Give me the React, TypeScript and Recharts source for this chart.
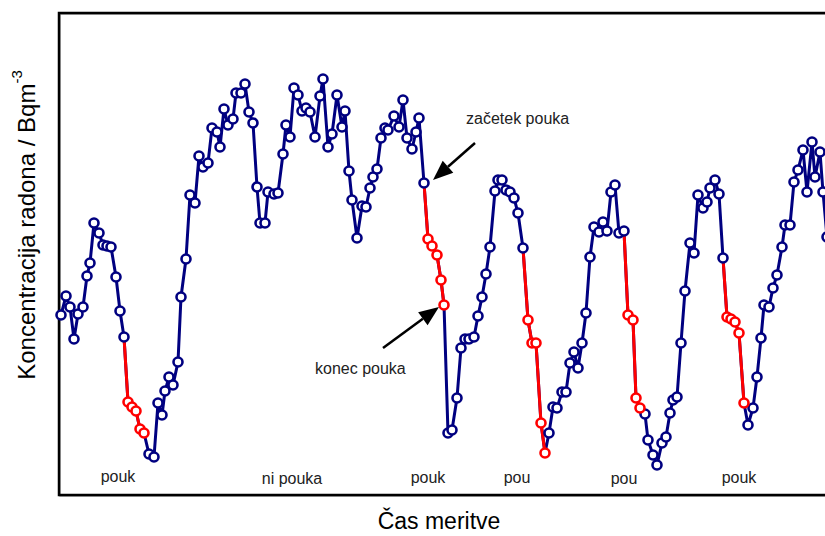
import React from "react";
import {
  LineChart,
  Line,
  XAxis,
  YAxis,
  ReferenceArea,
  ReferenceLine,
  ReferenceDot
} from "recharts";

// čas meritve (enote vzorčenja) in koncentracija radona
const casMeritve = [
  0.5, 1.75, 2.75, 3.75, 4.75, 6, 7, 7.75, 8.75, 10,
  11, 12, 13, 14.25, 15.25, 16.25, 17.25, 18.25, 19.25, 20.25,
  21.25, 22.5, 23.75, 24.75, 25.75, 26.5, 27.5, 28.5, 29.75, 30.5,
  31.75, 32.75, 34, 35, 36, 37.25, 38.25, 39.5, 40.25, 41.25,
  42.25, 43.5, 44.25, 45.5, 46.5, 47.5, 48.5, 49.5, 50.25, 51.5,
  52.25, 53.75, 54.75, 56, 56.75, 57.75, 58.75, 59.75, 60.75, 61.75,
  62.75, 64, 65.25, 66, 67.25, 68.25, 69.5, 70.75, 71.5, 72.5,
  73.25, 74.5, 75.75, 76.75, 77.75, 78.5, 79.5, 80.5, 81.5, 82.25,
  83.75, 85, 86, 87, 88.25, 89.25, 90, 91.25, 92.25, 93.25,
  94.5, 95.5, 96.25, 97.25, 98.25, 99.5, 100.5, 101.5, 102.5, 103.75,
  104.75, 105.75, 106.75, 107.75, 109, 109.75, 110.75, 111.75, 112.75, 113.75,
  114.75, 116, 117.25, 118.25, 119.25, 120.5, 121.5, 122.5, 123.5, 124.5,
  125.75, 126.75, 127.75, 128.75, 129.75, 130.75, 131.75, 132.75, 133.75, 135,
  136, 137, 138, 139, 140, 141.25, 142.25, 143.5, 144.25, 145.25,
  146.5, 147.25, 148.5, 149.5, 150.75, 151.75, 152.75, 153.5, 154.5, 155.5,
  156.5, 157.75, 158.75, 159.75, 161, 162, 162.75, 164, 165, 166,
  167, 168, 169, 170, 171.25, 172.25, 173.5, 174.5, 175.5, 176.25,
  177.5, 178.5, 179.5, 180.75, 181.5, 182.75, 183.75, 184.75, 186, 187,
  188.25, 189, 190.25, 191, 192
];

const radon = [
  360, 398, 376, 312, 362, 376, 438, 464, 544, 524,
  500, 498, 496, 436, 368, 316, 186, 176, 168, 132,
  124, 82, 76, 184, 160, 208, 236, 220, 266, 396,
  472, 600, 584, 678, 656, 664, 734, 726, 696, 772,
  740, 752, 804, 804, 822, 766, 744, 616, 544, 544,
  606, 602, 604, 682, 740, 716, 814, 800, 768, 774,
  766, 716, 798, 832, 696, 722, 800, 736, 768, 648,
  590, 514, 578, 576, 614, 636, 652, 714, 734, 730,
  758, 736, 790, 714, 692, 726, 754, 624, 512, 498,
  480, 430, 380, 124, 130, 194, 294, 312, 312, 316,
  358, 396, 442, 496, 608, 630, 630, 610, 606, 594,
  564, 494, 350, 304, 304, 144, 84, 124, 176, 174,
  206, 206, 264, 286, 254, 304, 364, 476, 536, 526,
  546, 528, 606, 620, 524, 528, 360, 350, 194, 174,
  162, 110, 80, 60, 104, 116, 164, 190, 196, 304,
  408, 504, 484, 600, 574, 586, 614, 630, 602, 474,
  356, 352, 346, 324, 184, 140, 174, 236, 314, 380,
  376, 414, 440, 496, 540, 540, 626, 650, 690, 606,
  706, 636, 686, 606, 516
];

// obdobja pouka (od, do)
const obdobjaPouka = [
  [17, 21.5],
  [92, 96.5],
  [117, 122],
  [142, 145.5],
  [167, 171.5]
];

const oznake = ["pouk", "ni pouka", "pouk", "pou", "pou", "pouk"];
const oznakeCas = [14.75, 58.25, 92.25, 114.5, 141.25, 170];
const oznakeVisina = [38, 34, 36, 36, 34, 36];

const BLUE = "#000080";
const RED = "#ff0000";
const FONT = "'Liberation Sans', Arial, sans-serif";

const jePouk = (t: number) => obdobjaPouka.some(([a, b]) => t >= a && t <= b);

const data = casMeritve.map((t, i) => {
  const pouk = jePouk(t);
  const naslednjiPouk = i + 1 < casMeritve.length && jePouk(casMeritve[i + 1]);
  return {
    t,
    radon: radon[i],
    pouk,
    rdeca: pouk || naslednjiPouk ? radon[i] : null
  };
});

const BlueDot = (props: any) => {
  const { cx, cy, index, payload } = props;
  if (cx == null || cy == null || payload.pouk) return <g key={`b${index}`} />;
  return (
    <circle key={`b${index}`} cx={cx} cy={cy} r={4.5} fill="#fff" stroke={BLUE} strokeWidth={2.6} />
  );
};

const RedDot = (props: any) => {
  const { cx, cy, index, payload } = props;
  if (cx == null || cy == null || !payload.pouk) return <g key={`r${index}`} />;
  return (
    <circle key={`r${index}`} cx={cx} cy={cy} r={4.5} fill="#fff" stroke={RED} strokeWidth={2.6} />
  );
};

const Arrow = (props: any) => {
  const { x1, y1, x2, y2 } = props;
  const dx = x2 - x1;
  const dy = y2 - y1;
  const len = Math.hypot(dx, dy) || 1;
  const ux = dx / len;
  const uy = dy / len;
  const L = 20;
  const W = 8;
  const bx = x2 - ux * L;
  const by = y2 - uy * L;
  return (
    <g>
      <line x1={x1} y1={y1} x2={bx} y2={by} stroke="#000" strokeWidth={2.5} />
      <polygon
        points={`${x2},${y2} ${bx - uy * W},${by + ux * W} ${bx + uy * W},${by - ux * W}`}
        fill="#000"
      />
    </g>
  );
};

const textShape = (label: string, anchor: "start" | "middle") => (props: any) => (
  <text
    x={props.cx}
    y={props.cy}
    textAnchor={anchor}
    dominantBaseline="central"
    fontFamily={FONT}
    fontSize={16}
    fill="#222"
  >
    {label}
  </text>
);

const Frame = (props: any) => {
  const { x, y, width, height } = props;
  return (
    <g>
      <rect x={x + 1} y={y + 1} width={width} height={height} fill="none" stroke="#999" strokeWidth={1.5} />
      <rect x={x} y={y} width={width} height={height} fill="none" stroke="#000" strokeWidth={2.5} />
    </g>
  );
};

export default function App() {
  return (
    <div
      style={{
        position: "absolute",
        left: 0,
        top: 0,
        width: 825,
        height: 536,
        overflow: "hidden",
        background: "#fff"
      }}
    >
      <LineChart
        width={845}
        height={536}
        data={data}
        margin={{ top: 13, right: 6, bottom: 41, left: 59 }}
      >
        <XAxis dataKey="t" type="number" domain={[0, 195]} hide />
        <YAxis type="number" domain={[0, 964]} hide />

        <ReferenceArea
          x1={0}
          x2={195}
          y1={0}
          y2={964}
          ifOverflow="visible"
          shape={Frame}
        />

        <Line
          dataKey="radon"
          type="linear"
          stroke={BLUE}
          strokeWidth={3}
          dot={BlueDot}
          activeDot={false}
          isAnimationActive={false}
        />
        <Line
          dataKey="rdeca"
          type="linear"
          stroke={RED}
          strokeWidth={3}
          dot={RedDot}
          activeDot={false}
          connectNulls={false}
          isAnimationActive={false}
        />

        {oznake.map((o, i) => (
          <ReferenceDot
            key={`o${i}`}
            x={oznakeCas[i]}
            y={oznakeVisina[i]}
            r={0}
            ifOverflow="visible"
            shape={textShape(o, "middle")}
          />
        ))}

        <ReferenceDot x={101.75} y={754} r={0} ifOverflow="visible" shape={textShape("začetek pouka", "start")} />
        <ReferenceDot x={64} y={254} r={0} ifOverflow="visible" shape={textShape("konec pouka", "start")} />

        <ReferenceLine
          segment={[{ x: 104, y: 704 }, { x: 93.5, y: 630 }]}
          ifOverflow="visible"
          shape={Arrow}
        />
        <ReferenceLine
          segment={[{ x: 81, y: 294 }, { x: 95, y: 376 }]}
          ifOverflow="visible"
          shape={Arrow}
        />
      </LineChart>

      <svg
        width={825}
        height={536}
        style={{ position: "absolute", left: 0, top: 0, pointerEvents: "none" }}
      >
        <text
          x={439}
          y={521}
          textAnchor="middle"
          dominantBaseline="central"
          fontFamily={FONT}
          fontSize={23}
          fill="#000"
        >
          Čas meritve
        </text>
        <text
          transform="translate(26, 225) rotate(-90)"
          textAnchor="middle"
          dominantBaseline="central"
          fontFamily={FONT}
          fontSize={24}
          fill="#000"
        >
          Koncentracija radona / Bqm
          <tspan dy={-10} fontSize={15}>-3</tspan>
        </text>
      </svg>
    </div>
  );
}
